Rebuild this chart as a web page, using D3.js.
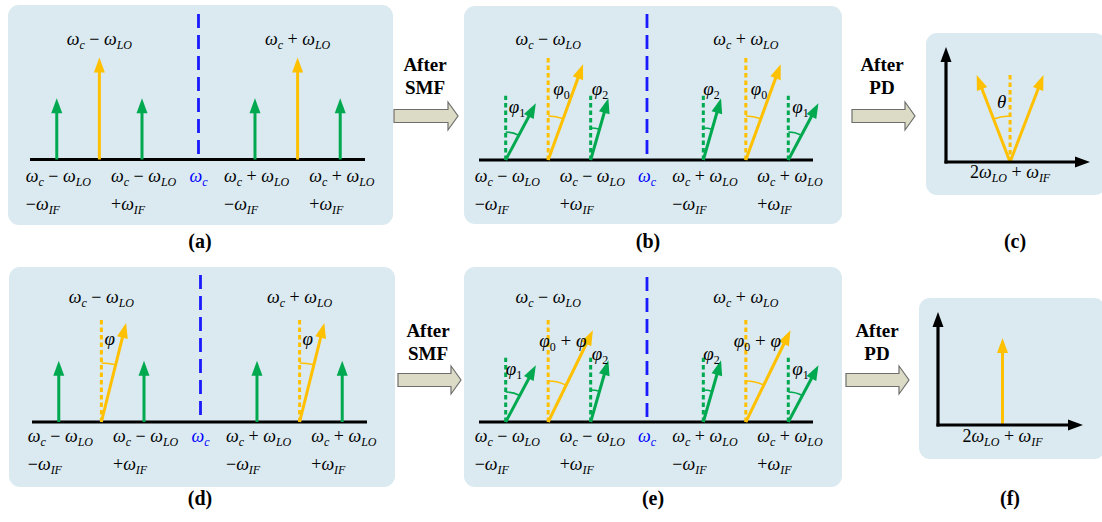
<!DOCTYPE html>
<html><head><meta charset="utf-8">
<script src="https://cdn.jsdelivr.net/npm/d3@7"></script>
<style>html,body{margin:0;padding:0;background:#fff;} svg{display:block;} text{white-space:pre;}</style>
</head><body>
<svg id="chart" width="1102" height="522"></svg>
<script>
// ---------- DATA ----------
// spectral tones, frequency offsets relative to ωc (units of the spectrum axis)
const toneFreqs = [-14.3, -10, -5.7, 5.7, 10, 14.3];
const toneTypes = ["sb", "lo", "sb", "sb", "lo", "sb"];   // sideband (green) / LO-shifted carrier (yellow)
const ampA = [0.6, 1.0, 0.6, 0.6, 1.0, 0.6];
const ampB = [0.63, 1.0, 0.63, 0.63, 1.0, 0.63];
const phaseA = [0, 0, 0, 0, 0, 0];
const phaseB = [28, 20, 16, 16, 20, 28];      // degrees
const phaseD = [0, 14, 0, 0, 14, 0];
const phaseE = [28, 26, 16, 16, 26, 28];
const phaseLabelsB = ["φ_{1}", "φ_{0}", "φ_{2}", "φ_{2}", "φ_{0}", "φ_{1}"];
const phaseLabelsD = ["", "φ", "", "", "φ", ""];
const phaseLabelsE = ["φ_{1}", "φ_{0} + φ", "φ_{2}", "φ_{2}", "φ_{0} + φ", "φ_{1}"];
const topLabels = ["ω_{c} − ω_{LO}", "ω_{c} + ω_{LO}"];
const bottomLine1 = ["ω_{c} − ω_{LO}", "", "ω_{c} − ω_{LO}", "ω_{c} + ω_{LO}", "", "ω_{c} + ω_{LO}"];
const bottomLine2 = ["−ω_{IF}", "", "+ω_{IF}", "−ω_{IF}", "", "+ω_{IF}"];
const centerLabel = "ω_{c}";
const pdArmAngles = [-21, 21];   // (c): two beating components, degrees
const pdArmAmp = 0.81;
const pdRefAmp = 0.77;
const pdToneAmpF = 0.77;          // (f)
const pdTonePos = 0.445;
const pdLabel = "2ω_{LO} + ω_{IF}";
const stepLabels = [["After", "SMF"], ["After", "PD"], ["After", "SMF"], ["After", "PD"]];
const captions = ["(a)", "(b)", "(c)", "(d)", "(e)", "(f)"];

// ---------- STYLE ----------
const C = {box: "#daeaf0", green: "#00a94f", yellow: "#ffc000", blue: "#1a1aff", black: "#000"};
const SERIF = "'Liberation Serif', 'Times New Roman', serif";

const svg = d3.select("#chart");

function richText(sel, str, x, y, o = {}) {
  const t = sel.append("text").attr("x", x).attr("y", y)
    .attr("font-family", SERIF).attr("font-size", o.size || 18)
    .attr("fill", o.fill || "#000").attr("text-anchor", o.anchor || "start");
  let shift = 0;
  const re = /_\{([^}]*)\}|([^_]+)/g; let m;
  while ((m = re.exec(str))) {
    const sub = m[1] !== undefined; const s = sub ? m[1] : m[2];
    const target = sub ? 4 : 0;
    s.split(/([−+0-9]+)/).filter(r => r.length).forEach((r, i) => {
      const up = /^[−+0-9 ]+$/.test(r);
      const ts = t.append("tspan").text(r).attr("font-style", up ? "normal" : "italic");
      if (sub) ts.attr("font-size", o.subSize || 12);
      if (i === 0 && target !== shift) { ts.attr("dy", target - shift); shift = target; }
    });
  }
  return t;
}

function arrow(g, x0, y0, x1, y1, color, w = 3, hl = 15, hw = 11) {
  const dx = x1 - x0, dy = y1 - y0, L = Math.hypot(dx, dy), ux = dx / L, uy = dy / L;
  const bx = x1 - ux * hl, by = y1 - uy * hl;
  g.append("line").attr("x1", x0).attr("y1", y0).attr("x2", bx + ux * 2).attr("y2", by + uy * 2)
    .attr("stroke", color).attr("stroke-width", w);
  g.append("path").attr("d", `M${x1},${y1}L${bx - uy * hw / 2},${by + ux * hw / 2}L${bx + uy * hw / 2},${by - ux * hw / 2}Z`)
    .attr("fill", color);
}

function box(g, [x, y, w, h]) {
  g.append("rect").attr("x", x).attr("y", y).attr("width", w).attr("height", h)
    .attr("rx", 11).attr("fill", C.box);
}

function angleArc(g, cx, cy, r, a0, a1, color) {
  const p = a => [cx + r * Math.sin(a * Math.PI / 180), cy - r * Math.cos(a * Math.PI / 180)];
  const [sx, sy] = p(a0), [ex, ey] = p(a1);
  g.append("path").attr("d", `M${sx},${sy}A${r},${r} 0 0 1 ${ex},${ey}`)
    .attr("fill", "none").attr("stroke", color).attr("stroke-width", 1.6);
}

// ---------- SPECTRUM PANELS ----------
const panels = [
  {box: [8, 5, 385, 220], axis: [30, 365], base: 159.5, dashTop: 14, topY: 45, bl1: 182, bl2: 210,
   amps: ampA, phases: phaseA},
  {box: [464, 6, 378, 218], axis: [479, 813], base: 160, dashTop: 14, topY: 45, bl1: 182, bl2: 210,
   amps: ampB, phases: phaseB, plabels: phaseLabelsB, arcR: [28, 44, 32, 32, 44, 28],
   labDx: [3, 5, 1, 0, 5, 4], labDy: [-47, -65, -65, -65, -65, -47]},
  {box: [9, 267, 386, 220], axis: [32, 367], base: 422, dashTop: 275, topY: 303, bl1: 442, bl2: 470,
   amps: ampA, phases: phaseD, plabels: phaseLabelsD, arcR: [0, 59, 0, 0, 59, 0],
   labDx: [0, 3, 0, 0, 3, 0], labDy: [0, -77, 0, 0, -77, 0]},
  {box: [464, 267, 378, 220], axis: [479, 813], base: 422, dashTop: 277, topY: 303, bl1: 442, bl2: 470,
   amps: ampB, phases: phaseE, plabels: phaseLabelsE, arcR: [30, 41, 32, 32, 41, 30],
   labDx: [0, -9, 1, 0, -12, 4], labDy: [-47, -75, -62, -62, -75, -47]}
];

panels.forEach(P => {
  const g = svg.append("g");
  box(g, P.box);
  const x = d3.scaleLinear().domain([-17, 16.8]).range(P.axis);
  const y = d3.scaleLinear().domain([0, 1]).range([P.base, P.base - 102]);
  // baseline
  g.append("line").attr("x1", P.axis[0]).attr("x2", P.axis[1]).attr("y1", P.base).attr("y2", P.base)
    .attr("stroke", C.black).attr("stroke-width", 3.2);
  // carrier dashed line
  g.append("line").attr("x1", x(0)).attr("x2", x(0)).attr("y1", P.dashTop).attr("y2", P.base)
    .attr("stroke", C.blue).attr("stroke-width", 2.8).attr("stroke-dasharray", "14,7");
  toneFreqs.forEach((f, i) => {
    const col = toneTypes[i] === "lo" ? C.yellow : C.green;
    const x0 = x(f), L = P.base - y(P.amps[i]), ph = P.phases[i] * Math.PI / 180;
    if (P.phases[i] !== 0) {
      g.append("line").attr("x1", x0).attr("x2", x0).attr("y1", P.base).attr("y2", P.base - L)
        .attr("stroke", col).attr("stroke-width", 3).attr("stroke-dasharray", "4.5,3");
      angleArc(g, x0, P.base, P.arcR[i], 0, P.phases[i], col);
    }
    arrow(g, x0, P.base, x0 + L * Math.sin(ph), P.base - L * Math.cos(ph), col);
    if (P.plabels && P.plabels[i]) richText(g, P.plabels[i], x0 + P.labDx[i], P.base + P.labDy[i], {size: 19, subSize: 12});
    if (bottomLine1[i]) {
      richText(g, bottomLine1[i], x0 - 31, P.bl1);
      richText(g, bottomLine2[i], x0 - 31, P.bl2);
    }
  });
  // top labels over the LO-shifted tones
  toneFreqs.filter((f, i) => toneTypes[i] === "lo").forEach((f, k) => {
    richText(g, topLabels[k], x(f), P.topY, {anchor: "middle"});
  });
  richText(g, centerLabel, x(0), P.bl1, {anchor: "middle", fill: "#0000ff"});
});

// ---------- PD PANELS ----------
function pdAxes(g, ox, oy, yTop, xRight) {
  arrow(g, ox, oy + 1.5, ox, yTop, C.black, 3.2, 15, 11);
  arrow(g, ox - 1.5, oy, xRight, oy, C.black, 3.2, 15, 11);
}
// (c)
{
  const g = svg.append("g");
  box(g, [926, 33, 180, 162]);
  const ox = 946, oy = 162;
  const xs = d3.scaleLinear().domain([0, 1]).range([ox, 1090]);
  const ys = d3.scaleLinear().domain([0, 1]).range([oy, 47]);
  const x0 = xs(pdTonePos), L = oy - ys(pdArmAmp);
  g.append("line").attr("x1", x0).attr("x2", x0).attr("y1", oy).attr("y2", ys(pdRefAmp))
    .attr("stroke", C.yellow).attr("stroke-width", 3).attr("stroke-dasharray", "4.5,3");
  pdArmAngles.forEach(a => {
    const r = a * Math.PI / 180;
    arrow(g, x0, oy, x0 + L * Math.sin(r), oy - L * Math.cos(r), C.yellow);
  });
  angleArc(g, x0, oy, 46, pdArmAngles[0], 0, C.yellow);
  pdAxes(g, ox, oy, 47, 1090);
  richText(g, "θ", 997, 108, {size: 19});
  richText(g, pdLabel, x0, 178, {anchor: "middle"});
}
// (f)
{
  const g = svg.append("g");
  box(g, [919, 298, 186, 161]);
  const ox = 938, oy = 425;
  const xs = d3.scaleLinear().domain([0, 1]).range([ox, 1083]);
  const ys = d3.scaleLinear().domain([0, 1]).range([oy, 312]);
  const x0 = xs(pdTonePos);
  arrow(g, x0, oy, x0, ys(pdToneAmpF), C.yellow);
  pdAxes(g, ox, oy, 312, 1083);
  richText(g, pdLabel, x0, 442, {anchor: "middle"});
}

// ---------- STEP ARROWS ----------
const steps = [
  {x0: 394, x1: 458, cy: 116, tx: 425, ty: 71},
  {x0: 852, x1: 915, cy: 116, tx: 882, ty: 71},
  {x0: 398, x1: 461, cy: 380, tx: 428, ty: 337},
  {x0: 846, x1: 909, cy: 380, tx: 877, ty: 337}
];
steps.forEach((s, i) => {
  const bh = 6.5, hh = 14, hl = 10, hx = s.x1 - hl;
  svg.append("path")
    .attr("d", `M${s.x0},${s.cy - bh}L${hx},${s.cy - bh}L${hx},${s.cy - hh}L${s.x1},${s.cy}L${hx},${s.cy + hh}L${hx},${s.cy + bh}L${s.x0},${s.cy + bh}Z`)
    .attr("fill", "#dcdcc6").attr("stroke", "#6e6e6e").attr("stroke-width", 1.2);
  stepLabels[i].forEach((t, k) => {
    svg.append("text").attr("x", s.tx).attr("y", s.ty + k * 23).attr("text-anchor", "middle")
      .attr("font-family", SERIF).attr("font-weight", "bold").attr("font-size", 19).text(t);
  });
});

// ---------- CAPTIONS ----------
const capPos = [[200, 248], [648, 248], [1015, 248], [200, 505], [653, 505], [1010, 505]];
captions.forEach((c, i) => {
  svg.append("text").attr("x", capPos[i][0]).attr("y", capPos[i][1]).attr("text-anchor", "middle")
    .attr("font-family", SERIF).attr("font-weight", "bold").attr("font-size", 20).text(c);
});
</script>
</body></html>
